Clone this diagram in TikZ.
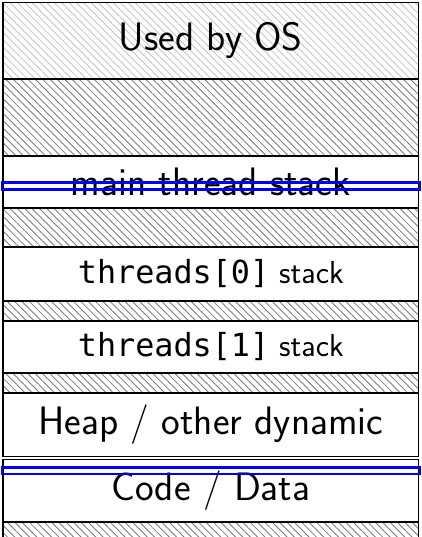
\documentclass[tikz,border=0pt]{standalone}
\usepackage{fontspec}
\setmonofont{DejaVu Sans Mono}
\renewcommand{\familydefault}{\sfdefault}
\usepackage{tikz}
\usetikzlibrary{patterns.meta}
\definecolor{hatchc}{HTML}{7A7A7A}
\definecolor{oshatchc}{HTML}{C4C4C4}
\definecolor{markc}{HTML}{0000FF}
\tikzset{
  band/.style={draw=black, line width=0.9pt},
  hatchband/.style={band,
    pattern={Lines[angle=-45, distance=3.7pt, line width=0.6pt]},
    pattern color=#1},
  bandlabel/.style={inner sep=0pt, text=black},
  smalllabel/.style={bandlabel, font=\fontsize{22.6}{27}\selectfont},
  marker/.style={draw=markc, line width=1.9pt}
}
% one labelled region of the address space: name, top, bottom, text
\newcommand{\memband}[5][]{%
  \draw[band, fill=white] (3,#3) rectangle (418.5,#4);
  \node[bandlabel, #1] (#2) at (210.75,{(#3+#4)/2}) {#5};
}

\begin{document}
\begin{tikzpicture}[x=0.025cm, y=-0.025cm, line width=0.9pt,
    font=\fontsize{28.2}{33}\selectfont]
  \useasboundingbox (0,0) rectangle (421,537);
  % reserved for the OS
  \draw[hatchband=oshatchc] (3,2.5) rectangle (418.5,79);
  \node[bandlabel] (os) at (210.75,40) {Used by OS};
  % unused gaps
  \foreach \t/\b in {79/156, 208/247, 301/321, 373/393, 522/550}
    \draw[hatchband=hatchc] (3,\t) rectangle (418.5,\b);
  \memband{mainstack}{156}{208}{main thread stack}
  \memband[smalllabel]{stackzero}{247}{301}{\texttt{threads[0]} stack}
  \memband[smalllabel]{stackone}{321}{373}{\texttt{threads[1]} stack}
  \memband{heap}{393}{456.5}{Heap / other dynamic}
  \memband{code}{459.5}{522}{Code / Data}
  % highlighted addresses
  \draw[marker] (2,182.7) rectangle (420,189.5);
  \draw[marker] (2,467.7) rectangle (420,473.9);
\end{tikzpicture}
\end{document}
